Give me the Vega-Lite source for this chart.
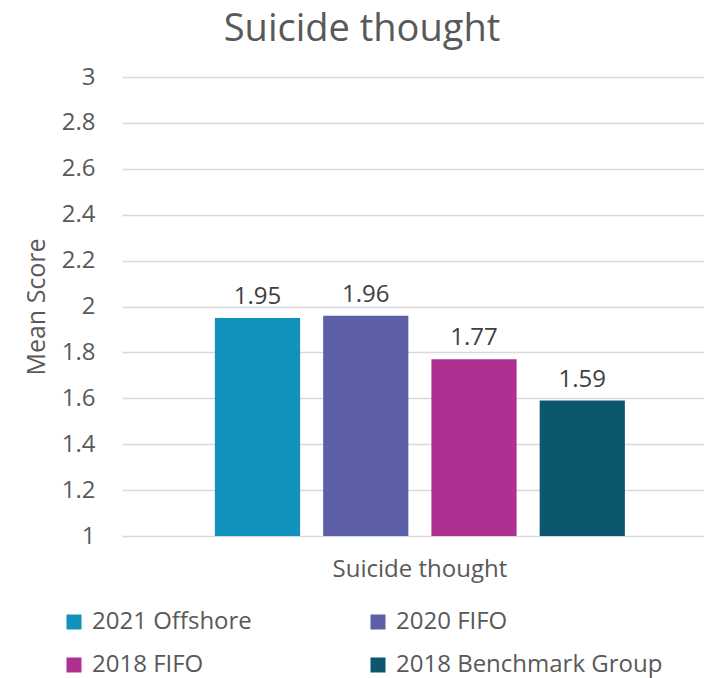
{
  "$schema": "https://vega.github.io/schema/vega-lite/v6.json",
  "width": 582,
  "height": 459,
  "autosize": {"type": "none"},
  "padding": {"left": 122, "top": 77, "right": 0, "bottom": 142},
  "background": "white",
  "config": {"view": {"stroke": null}},
  "title": {
    "text": "Suicide thought",
    "font": "Open Sans",
    "fontSize": 38,
    "fontWeight": "normal",
    "color": "#595959",
    "anchor": "middle",
    "dx": -51,
    "offset": 16
  },
  "data": {
    "values": [
      {"category": "Suicide thought", "series": "2021 Offshore", "value": 1.95},
      {"category": "Suicide thought", "series": "2020 FIFO", "value": 1.96},
      {"category": "Suicide thought", "series": "2018 FIFO", "value": 1.77},
      {"category": "Suicide thought", "series": "2018 Benchmark Group", "value": 1.59}
    ]
  },
  "encoding": {
    "x": {
      "field": "category",
      "type": "nominal",
      "scale": {"paddingInner": 0, "paddingOuter": 0.2098, "align": 0.54},
      "axis": {
        "title": null,
        "labelAngle": 0,
        "labelFont": "Open Sans",
        "labelFontSize": 24,
        "labelColor": "#595959",
        "labelPadding": 21,
        "ticks": false,
        "domain": false
      }
    },
    "xOffset": {
      "field": "series",
      "type": "nominal",
      "sort": ["2021 Offshore", "2020 FIFO", "2018 FIFO", "2018 Benchmark Group"],
      "scale": {"paddingInner": 0.213, "paddingOuter": 0}
    },
    "y": {
      "field": "value",
      "type": "quantitative",
      "scale": {"domain": [1, 3], "zero": false, "nice": false},
      "axis": {
        "title": "Mean Score",
        "titleFont": "Open Sans",
        "titleFontSize": 25,
        "titleFontWeight": "normal",
        "titleColor": "#595959",
        "titlePadding": 12,
        "values": [1, 1.2, 1.4, 1.6, 1.8, 2, 2.2, 2.4, 2.6, 2.8, 3],
        "format": "~g",
        "labelFont": "Open Sans",
        "labelFontSize": 24,
        "labelColor": "#595959",
        "labelPadding": 27,
        "ticks": false,
        "domain": false,
        "grid": true,
        "gridColor": "#D9D9D9",
        "gridWidth": 1.3
      }
    }
  },
  "layer": [
    {
      "mark": {"type": "bar"},
      "encoding": {
        "y2": {"datum": 1},
        "color": {
          "field": "series",
          "type": "nominal",
          "scale": {
            "domain": ["2021 Offshore", "2018 FIFO", "2020 FIFO", "2018 Benchmark Group"],
            "range": ["#1192BD", "#B03091", "#5C5EA8", "#0B576E"]
          },
          "legend": {
            "title": null,
            "orient": "none",
            "legendX": -60,
            "legendY": 533,
            "columns": 2,
            "columnPadding": 114,
            "rowPadding": 19,
            "symbolType": "square",
            "symbolSize": 225,
            "symbolStrokeWidth": 0,
            "labelFont": "Open Sans",
            "labelFontSize": 24,
            "labelColor": "#595959",
            "labelOffset": 6,
            "labelLimit": 400
          }
        }
      }
    },
    {
      "mark": {
        "type": "text",
        "baseline": "alphabetic",
        "dy": -14,
        "font": "Open Sans",
        "fontSize": 24,
        "color": "#404040"
      },
      "encoding": {
        "text": {"field": "value", "type": "quantitative", "format": ".2~f"}
      }
    }
  ]
}
